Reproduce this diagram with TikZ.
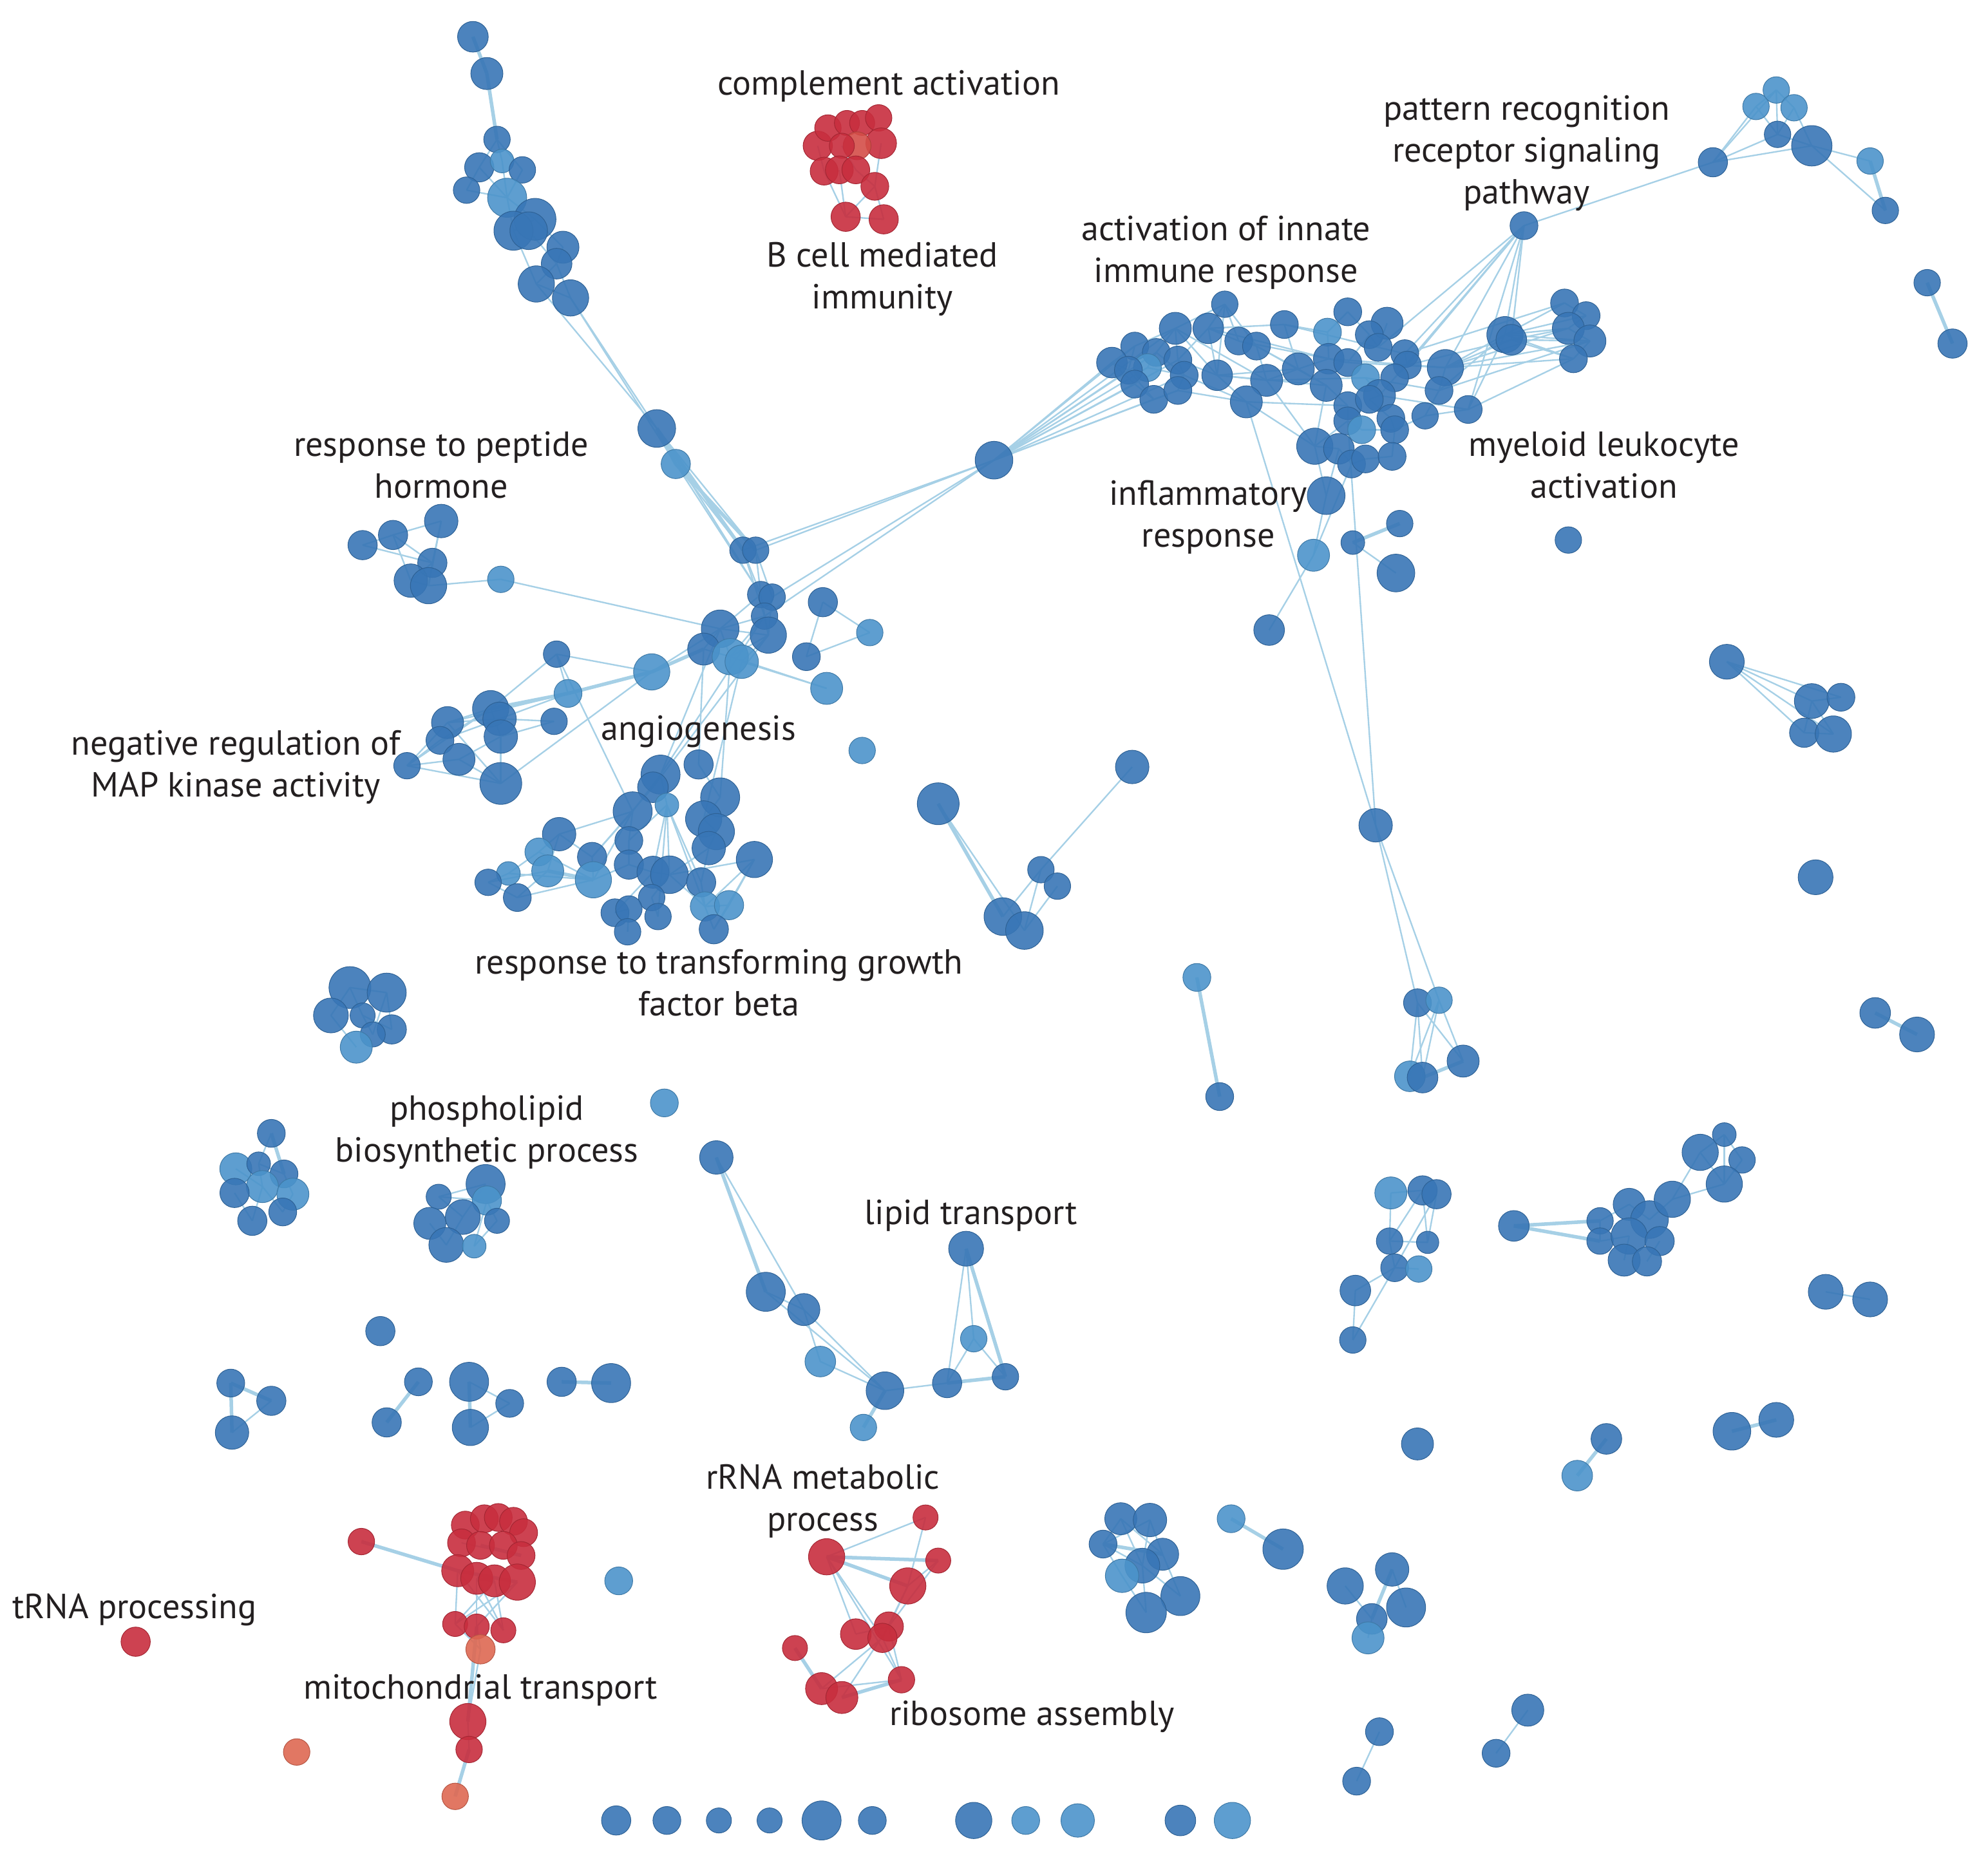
\documentclass[tikz,border=0pt]{standalone}
\usepackage{fontspec}
\setmainfont{PT Sans}
\usetikzlibrary{backgrounds}

% term colours
\definecolor{tblue}{RGB}{56,118,182}
\definecolor{tlight}{RGB}{76,148,203}
\definecolor{tred}{RGB}{200,46,62}
\definecolor{tmix}{RGB}{212,78,72}
\definecolor{torange}{RGB}{222,104,82}
\definecolor{linkblue}{RGB}{166,208,230}
\definecolor{labelgray}{RGB}{35,31,32}

\tikzset{
  term/.style={circle, inner sep=0pt, minimum size=1.1*#1pt, line width=0.5pt, fill opacity=0.9},
  tcol/.style={fill=#1, draw=#1!82!black},
  conn/.style={draw=linkblue, line width=1.2pt},
  bconn/.style={draw=linkblue, line width=2.8pt},
  lbl/.style={text=labelgray, font=\fontsize{27.5}{33}\selectfont, align=center, inner sep=0pt}
}

\begin{document}
\begin{tikzpicture}[x=1pt, y=-1pt]

    \useasboundingbox (0,0) rectangle (1568,1466);

    % top-left chain
    \foreach \n/\x/\y/\s/\c in {a1/373/29/22/tblue, a2/384/58/23/tblue, a3/392/110/19/tblue,
      a4/378/132/21/tblue, a5/396/127/17/tlight, a6/412/134/19/tblue, a7/368/150/19/tblue,
      a8/400/156/28/tlight, a9/422/173/30/tblue, a10/405/182/28/tblue, a11/417/182/27/tblue,
      a12/444/195/23/tblue, a13/439/208/22/tblue, a14/423/224/26/tblue, a15/450/235/26/tblue,
      a16/518/338/27/tblue, a17/533/366/21/tlight}
      \node[term=\s, tcol=\c] (\n) at (\x,\y) {};

    % complement activation
    \foreach \n/\x/\y/\s/\c in {c1/645/115/21/tred, c2/653/101/19/tred, c3/668/97/18/tred,
      c4/680/97/18/tred, c5/693/93/19/tred, c6/695/113/22/tred, c7/676/115/20/tmix,
      c8/664/115/18/tred, c9/650/135/20/tred, c10/662/134/20/tred, c11/675/134/20/tred,
      c12/690/147/20/tred, c13/667/171/21/tred, c14/697/173/21/tred}
      \node[term=\s, tcol=\c] (\n) at (\x,\y) {};

    % innate immune response
    \node[term=27, tcol=tblue] (u) at (784,363) {};
    \foreach \n/\x/\y/\s/\c in {i1/966/240/19/tblue, i2/1063/246/20/tblue, i3/1094/255/23/tblue,
      i4/1013/256/20/tblue, i5/927/259/23/tblue, i6/953/259/22/tblue, i7/1047/262/20/tlight,
      i8/977/269/20/tblue, i9/991/273/20/tblue, i10/895/273/20/tblue, i11/912/278/20/tblue,
      i12/877/286/22/tblue, i13/905/290/20/tlight, i14/890/292/20/tblue, i15/929/284/20/tblue,
      i16/934/296/20/tblue, i17/960/296/22/tblue, i18/895/303/20/tblue, i19/910/315/20/tblue,
      i20/929/308/20/tblue, i21/999/300/23/tblue, i22/983/317/23/tblue, i23/1024/291/23/tblue,
      i24/1048/283/22/tblue, i25/1063/286/20/tblue, i26/1046/304/23/tblue, i27/1080/264/20/tblue,
      i28/1087/274/20/tblue, i29/1108/279/20/tblue, i30/1110/288/20/tblue, i31/1077/298/20/tlight,
      i32/1100/298/20/tblue, i33/1088/312/23/tblue, i34/1063/320/20/tblue, i35/1080/315/20/tblue,
      i36/1140/290/26/tblue, i37/1135/308/20/tblue, i38/1097/330/20/tblue, i39/1063/332/20/tblue,
      i40/1074/339/20/tlight, i41/1100/339/20/tblue, i42/1124/328/19/tblue, i43/1158/323/20/tblue,
      i44/1037/352/26/tblue, i45/1056/354/22/tblue, i46/1066/366/20/tblue, i47/1077/362/20/tblue,
      i48/1098/360/20/tblue, i49/1187/264/26/tblue, i50/1192/268/22/tblue, i51/1234/239/20/tblue,
      i52/1251/249/20/tblue, i53/1237/259/23/tblue, i54/1254/269/23/tblue, i55/1241/283/20/tblue,
      i56/1046/391/27/tblue, i57/1104/413/19/tblue, i58/1067/428/17/tblue, i59/1101/452/27/tblue,
      i60/1036/438/23/tlight, i61/1237/426/19/tblue, i62/1001/497/22/tblue}
      \node[term=\s, tcol=\c] (\n) at (\x,\y) {};

    % pattern recognition, top right
    \node[term=20, tcol=tblue] (p1) at (1202,178) {};
    \foreach \n/\x/\y/\s/\c in {e1/1351/128/21/tblue, e2/1385/84/19/tlight, e3/1401/71/19/tlight,
      e4/1415/85/19/tlight, e5/1402/106/19/tblue, e6/1429/115/29/tblue, e7/1475/127/19/tlight,
      e8/1487/166/19/tblue, e9/1520/223/19/tblue, e10/1540/271/21/tblue}
      \node[term=\s, tcol=\c] (\n) at (\x,\y) {};

    % angiogenesis, peptide hormone, MAP kinase
    \foreach \n/\x/\y/\s/\c in {b1/586/434/19/tblue, b2/596/434/19/tblue, b3/600/469/19/tblue,
      b4/609/471/19/tblue, b5/603/486/19/tblue, b6/606/501/26/tblue, b7/568/496/27/tblue,
      b8/555/512/23/tblue, b9/576/518/26/tlight, b10/585/522/24/tlight,
      d1/649/475/21/tblue, d2/686/499/19/tlight, d3/636/518/20/tblue, d4/652/543/23/tlight,
      d5/680/592/19/tlight,
      h1/286/430/21/tblue, h2/310/422/21/tblue, h3/348/411/24/tblue, h4/341/444/21/tblue,
      h5/324/458/24/tblue, h6/338/462/26/tblue, h7/395/457/19/tlight,
      m1/439/516/19/tblue, m2/514/530/26/tlight, m3/448/547/20/tlight, m4/437/569/19/tblue,
      k1/387/559/26/tblue, k2/394/567/24/tblue, k3/395/581/24/tblue, k4/353/570/23/tblue,
      k5/347/584/20/tblue, k6/362/599/23/tblue, k7/321/604/19/tblue, k8/395/618/30/tblue}
      \node[term=\s, tcol=\c] (\n) at (\x,\y) {};

    % transforming growth factor beta
    \foreach \n/\x/\y/\s/\c in {t1/521/611/28/tblue, t2/551/603/21/tblue, t3/515/621/22/tblue,
      t4/568/629/28/tblue, t5/499/640/28/tblue, t6/526/635/17/tlight, t7/555/646/26/tblue,
      t8/565/656/26/tblue, t9/559/669/24/tblue, t10/441/658/24/tblue, t11/496/663/20/tblue,
      t12/467/676/21/tblue, t13/425/672/20/tlight, t14/432/687/23/tlight, t15/401/689/17/tlight,
      t16/385/696/19/tblue, t17/408/708/20/tblue, t18/468/694/26/tlight, t19/496/682/21/tblue,
      t20/515/688/23/tblue, t21/528/690/27/tblue, t22/595/678/26/tblue, t23/553/696/21/tblue,
      t24/556/715/21/tlight, t25/575/714/21/tlight, t26/514/708/19/tblue, t27/519/723/19/tblue,
      t28/485/720/20/tblue, t29/496/717/19/tblue, t30/495/735/19/tblue, t31/563/733/21/tblue}
      \node[term=\s, tcol=\c] (\n) at (\x,\y) {};

    % left side groups
    \foreach \n/\x/\y/\s/\c in {g1/276/779/30/tblue, g2/305/783/28/tblue, g3/261/801/25/tblue,
      g4/286/801/18/tblue, g5/309/812/21/tblue, g6/294/816/18/tblue, g7/281/826/23/tlight,
      j1/214/894/20/tblue, j2/186/922/23/tlight, j3/204/918/17/tblue, j4/224/926/20/tblue,
      j5/207/936/23/tlight, j6/231/942/23/tlight, j7/185/941/21/tblue, j8/199/963/21/tblue,
      j9/223/956/20/tblue,
      f1/346/944/18/tblue, f2/383/934/28/tblue, f3/384/947/21/tlight, f4/365/960/25/tblue,
      f5/339/965/23/tblue, f6/392/963/18/tblue, f7/352/982/25/tblue, f8/374/983/17/tlight,
      s1/300/1050/21/tblue, s2/182/1091/20/tblue, s3/214/1105/21/tblue, s4/183/1130/24/tblue,
      s5/330/1090/20/tblue, s6/305/1122/21/tblue, s7/370/1090/28/tblue, s8/371/1126/26/tblue,
      s9/402/1107/20/tblue, s10/443/1090/21/tblue, s11/482/1091/28/tblue, s12/524/870/20/tlight}
      \node[term=\s, tcol=\c] (\n) at (\x,\y) {};

    % lipid transport and middle groups
    \foreach \n/\x/\y/\s/\c in {q1/565/913/24/tblue, q2/604/1019/28/tblue, q3/634/1033/23/tblue,
      q4/647/1074/22/tlight, q5/698/1097/27/tblue, q6/681/1126/19/tlight, q7/747/1091/21/tblue,
      q8/762/985/25/tblue, q9/768/1056/19/tlight, q10/793/1086/19/tblue,
      v1/740/634/30/tblue, v2/893/605/24/tblue, v3/821/686/19/tblue, v4/834/699/19/tblue,
      v5/791/723/27/tblue, v6/808/734/27/tblue, v7/944/771/20/tlight, v8/962/865/20/tblue,
      w1/1085/651/24/tblue, w2/1118/791/20/tblue, w3/1135/789/19/tlight, w4/1112/849/22/tlight,
      w5/1122/850/22/tblue, w6/1154/837/23/tblue}
      \node[term=\s, tcol=\c] (\n) at (\x,\y) {};

    % right side groups
    \foreach \n/\x/\y/\s/\c in {x1/1362/522/25/tblue, x2/1429/553/25/tblue, x3/1452/550/20/tblue,
      x4/1423/578/21/tblue, x5/1446/579/26/tblue, x6/1432/692/25/tblue, x7/1479/799/22/tblue,
      x8/1512/816/25/tblue, x9/1440/1019/25/tblue, x10/1475/1025/25/tblue, x11/1267/1135/22/tblue,
      x12/1244/1164/22/tlight, x13/1366/1129/27/tblue, x14/1401/1120/25/tblue,
      x15/1205/1349/23/tblue, x16/1180/1383/20/tblue,
      y1/1097/941/23/tlight, y2/1122/939/21/tblue, y3/1133/942/21/tblue, y4/1096/979/19/tblue,
      y5/1126/980/16/tblue, y6/1100/1000/20/tblue, y7/1119/1001/19/tlight, y8/1069/1018/22/tblue,
      y9/1067/1057/19/tblue,
      z1/1194/967/22/tblue, z2/1262/963/19/tblue, z3/1262/979/19/tblue, z4/1285/950/23/tblue,
      z5/1301/962/27/tblue, z6/1285/975/26/tblue, z7/1309/979/21/tblue, z8/1281/994/23/tblue,
      z9/1299/995/21/tblue, z10/1319/946/26/tblue, z11/1341/909/26/tblue, z12/1360/895/17/tblue,
      z13/1374/915/19/tblue, z14/1360/934/26/tblue}
      \node[term=\s, tcol=\c] (\n) at (\x,\y) {};

    % bottom groups
    \foreach \n/\x/\y/\s/\c in {n1/884/1198/23/tblue, n2/907/1199/24/tblue, n3/870/1218/20/tblue,
      n4/917/1226/23/tblue, n5/901/1235/25/tblue, n6/885/1243/24/tlight, n7/931/1259/28/tblue,
      n8/904/1272/29/tblue,
      o1/971/1198/20/tlight, o2/1012/1222/29/tblue, o3/1061/1251/26/tblue, o4/1098/1238/24/tblue,
      o5/1109/1268/28/tblue, o6/1082/1277/22/tblue, o7/1079/1292/23/tlight, o8/1118/1139/23/tblue,
      o9/1088/1366/20/tblue, o10/1070/1405/20/tblue,
      row1/486/1436/21/tblue, row2/526/1436/20/tblue, row3/567/1436/18/tblue, row4/607/1436/18/tblue,
      row5/648/1436/28/tblue, row6/688/1436/20/tblue, row7/768/1436/26/tblue, row8/809/1436/20/tlight,
      row9/850/1436/24/tlight, row10/931/1436/22/tblue, row11/972/1436/26/tlight,
      bl/488/1247/20/tlight}
      \node[term=\s, tcol=\c] (\n) at (\x,\y) {};

    % mitochondrial transport, tRNA, rRNA
    \foreach \n/\x/\y/\s/\c in {mt1/285/1216/19/tred, mt2/367/1203/20/tred, mt3/382/1198/20/tred,
      mt4/393/1197/20/tred, mt5/405/1200/20/tred, mt6/413/1209/20/tred, mt7/364/1217/20/tred,
      mt8/379/1219/20/tred, mt9/397/1219/20/tred, mt10/411/1227/20/tred, mt11/361/1239/23/tred,
      mt12/376/1245/23/tred, mt13/390/1247/23/tred, mt14/408/1248/26/tred, mt15/359/1281/18/tred,
      mt16/376/1283/18/tred, mt17/397/1286/18/tred, mt18/379/1301/21/torange, mt19/369/1358/26/tred,
      mt20/370/1380/19/tred, mt21/359/1417/19/torange,
      trna/107/1295/21/tred, or1/234/1382/19/torange,
      rr1/730/1197/18/tred, rr2/652/1228/26/tred, rr3/740/1231/18/tred, rr4/716/1251/26/tred,
      rr5/675/1289/22/tred, rr6/701/1283/21/tred, rr7/696/1292/21/tred, rr8/627/1300/18/tred,
      rr9/711/1325/19/tred, rr10/648/1332/23/tred, rr11/664/1339/23/tred}
      \node[term=\s, tcol=\c] (\n) at (\x,\y) {};

    % links, behind the terms
    \begin{scope}[on background layer]
      \foreach \a/\b in {a1/a2, a2/a3, a16/a17, a17/b2, a16/b1, m2/b8, m3/k1, m2/m3, t14/t18,
        e7/e8, e9/e10, s2/s3, s2/s4, s5/s6, s7/s8, s10/s11, q1/q2, q5/q6, q8/q10, q7/q10,
        v1/v5, v7/v8, w5/w6, x7/x8, x11/x12, x13/x14, z1/z2, z1/z3, n3/n4, o1/o2, o4/o6,
        mt1/mt11, mt16/mt19, mt20/mt21, mt8/mt10, mt11/mt14, mt12/mt13, rr2/rr3, rr2/rr4,
        rr8/rr10, rr11/rr9, j1/j4, i57/i58}
        \draw[bconn] (\a.center) -- (\b.center);
      \foreach \a/\b in {a3/a4, a3/a5, a3/a6, a4/a7, a4/a8, a5/a8, a6/a8, a7/a8, a8/a9, a8/a10,
        a9/a10, a10/a11, a9/a12, a11/a13, a12/a13, a13/a14, a13/a15, a14/a15, a10/a14, a15/a16,
        a14/a16, a17/b1, a16/b2, a15/a17, a17/b3, a16/b3,
        c9/c13, c10/c13, c11/c12, c12/c14, c13/c14, c6/c12, c12/c13, c1/c9, c8/c11,
        u/i5, u/i10, u/i11, u/i12, u/i13, u/i14, u/i16, u/i18, u/i19, u/i20, u/i15,
        u/b1, u/b2, u/b4, u/b5,
        i1/i5, i1/i6, i1/i8, i1/i9, i1/i17, i5/i10, i5/i11, i5/i15, i6/i8, i6/i15, i6/i17,
        i10/i12, i10/i14, i11/i13, i12/i14, i12/i18, i13/i16, i14/i19, i15/i16, i16/i20,
        i18/i19, i19/i20, i17/i21, i17/i22, i8/i9, i9/i21, i16/i22, i20/i22, i15/i17, i11/i16,
        i5/i17, i4/i7, i4/i23, i7/i24, i21/i23, i23/i24, i24/i25, i23/i26, i26/i34, i25/i27,
        i27/i28, i2/i7, i2/i27, i3/i28, i28/i29, i29/i30, i30/i32, i31/i33, i32/i33, i33/i35,
        i34/i39, i35/i38, i38/i41, i39/i40, i40/i41, i41/i42, i42/i43, i36/i37, i37/i42,
        i36/i30, i44/i45, i45/i46, i46/i47, i47/i48, i48/i41, i44/i39, i6/i24, i17/i26, i9/i23,
        i22/i34, i21/i31, i8/i25, i4/i28, i21/i44, i22/i44, i26/i44, i24/i36, i25/i36, i31/i37,
        i33/i43, i36/i49, i36/i50, i37/i49, i43/i49, i30/i50, i5/i21, i6/i4, i9/i26, i17/i23,
        i49/i51, i49/i52, i49/i53, i49/i54, i49/i55, i50/i53, i50/i54, i50/i55, i36/i53,
        i36/i54, i36/i55, i51/i52, i52/i53, i53/i54, i54/i55, i43/i55, i29/i51, i37/i54,
        i29/p1, i30/p1, i36/p1, i49/p1, i43/p1, i32/p1, i50/p1, i28/p1, p1/e1,
        i44/i56, i45/i56, i56/i60, i46/i60, i58/i59, i60/i62, i22/w1, i39/w1,
        e1/e2, e1/e3, e1/e5, e1/e6, e2/e3, e3/e4, e2/e5, e3/e5, e4/e5, e4/e6, e5/e6, e6/e7, e6/e8,
        b1/b3, b2/b3, b2/b4, b1/b5, b3/b6, b4/b6, b5/b6, b5/b7, b6/b7, b7/b8, b8/b9, b7/b9,
        b6/b10, b5/b9, b3/b7, b6/b9, b9/d4, b10/d4, d1/d2, d1/d3, d2/d3, h7/b7,
        b7/t1, b8/t2, b5/t1, b9/t4, b10/t7, b6/t3, m1/t5, m2/b7, m1/m2, m1/m3,
        h1/h2, h2/h3, h1/h4, h2/h4, h2/h5, h3/h4, h3/h6, h4/h5, h4/h6, h5/h6, h6/h7,
        m3/k2, m1/k1, m4/k3, m4/k2, m2/k8, k1/k4, k1/k5, k2/k4, k3/k6, k4/k7, k5/k7, k6/k7,
        k6/k8, k3/k8, k4/k8, k7/k8, k1/k3, k2/k5, k1/k7, m3/k4,
        t10/t12, t10/t13, t10/t14, t12/t18, t13/t15, t14/t16, t15/t16, t16/t17, t14/t17,
        t17/t18, t18/t19, t18/t5, t5/t11, t11/t19, t19/t20, t20/t21, t21/t22, t1/t6, t6/t11,
        t6/t20, t6/t21, t4/t7, t7/t8, t8/t9, t9/t23, t23/t24, t24/t25, t24/t31, t21/t26,
        t26/t27, t28/t29, t29/t30, t20/t28, t21/t24, t22/t25, t1/t5, t5/t10, t6/t23, t6/t24,
        t6/t27, t3/t12, t9/t21, t13/t18, t15/t18, t12/t5, t2/t4, t1/t3, t22/t24, t22/t31,
        t25/t31,
        g1/g3, g1/g4, g2/g5, g4/g6, g3/g7, g2/g6, g1/g2, g4/g5,
        j1/j3, j2/j5, j3/j5, j4/j6, j5/j8, j6/j9, j7/j8, j5/j9, j3/j4,
        f1/f4, f2/f4, f3/f6, f4/f7, f5/f7, f6/f8, f3/f8, f1/f2, f1/f3,
        s3/s4, s7/s9, s8/s9,
        q1/q3, q2/q3, q2/q5, q3/q4, q3/q5, q4/q5, q5/q7, q7/q8, q8/q9, q9/q7, q9/q10,
        v1/v6, v2/v3, v3/v6, v4/v6, v3/v5,
        w1/w2, w1/w3, w2/w4, w2/w5, w3/w4, w3/w5, w3/w6, w2/w6,
        x1/x2, x1/x4, x1/x3, x1/x5, x2/x3, x2/x5, x4/x5, x2/x4, x9/x10, x15/x16,
        y1/y4, y2/y4, y2/y5, y3/y5, y3/y6, y4/y5, y4/y6, y6/y8, y6/y9, y8/y9, y1/y2, y6/y7,
        z2/z4, z3/z6, z5/z10, z10/z11, z10/z14, z11/z12, z12/z14, z11/z14, z13/z14, z12/z13,
        z4/z5, z6/z8, z7/z9, z2/z3,
        n1/n3, n1/n5, n2/n5, n2/n3, n1/n4, n3/n5, n3/n6, n2/n4, n5/n8, n5/n7, n4/n7, n6/n8,
        o3/o6, o6/o7, o4/o5, o9/o10,
        mt11/mt15, mt12/mt16, mt13/mt17, mt11/mt17, mt14/mt15, mt12/mt17, mt14/mt16,
        mt13/mt15, mt15/mt18, mt16/mt18, mt18/mt19, mt19/mt20, mt7/mt10,
        rr2/rr1, rr1/rr4, rr3/rr4, rr4/rr6, rr4/rr7, rr2/rr7, rr2/rr9, rr2/rr5, rr10/rr9,
        rr11/rr6, rr10/rr7, rr7/rr9, rr5/rr6, rr6/rr9, rr3/rr6}
        \draw[conn] (\a.center) -- (\b.center);
    \end{scope}

    % labels
    \node[lbl] (lcompl) at (701,68) {complement activation};
    \node[lbl] (lbcell) at (696,220) {B cell mediated\\immunity};
    \node[lbl] (lpattern) at (1204,121) {pattern recognition\\receptor signaling\\pathway};
    \node[lbl] (linnate) at (967,199) {activation of innate\\immune response};
    \node[lbl] (lpeptide) at (348,367) {response to peptide\\hormone};
    \node[lbl] (lmyeloid) at (1265,367) {myeloid leukocyte\\activation};
    \node[lbl] (linflam) at (953,408) {inflammatory\\response};
    \node[lbl] (lmapk) at (186,605) {negative regulation of\\MAP kinase activity};
    \node[lbl] (langio) at (551,577) {angiogenesis};
    \node[lbl] (ltgf) at (567,775) {response to transforming growth\\factor beta};
    \node[lbl] (lphospho) at (384,893) {phospholipid\\biosynthetic process};
    \node[lbl] (llipid) at (766,959) {lipid transport};
    \node[lbl] (lrrna) at (649,1184) {rRNA metabolic\\process};
    \node[lbl] (ltrna) at (106,1270) {tRNA processing};
    \node[lbl] (lmito) at (379,1333) {mitochondrial transport};
    \node[lbl] (lribo) at (814,1354) {ribosome assembly};

\end{tikzpicture}
\end{document}
